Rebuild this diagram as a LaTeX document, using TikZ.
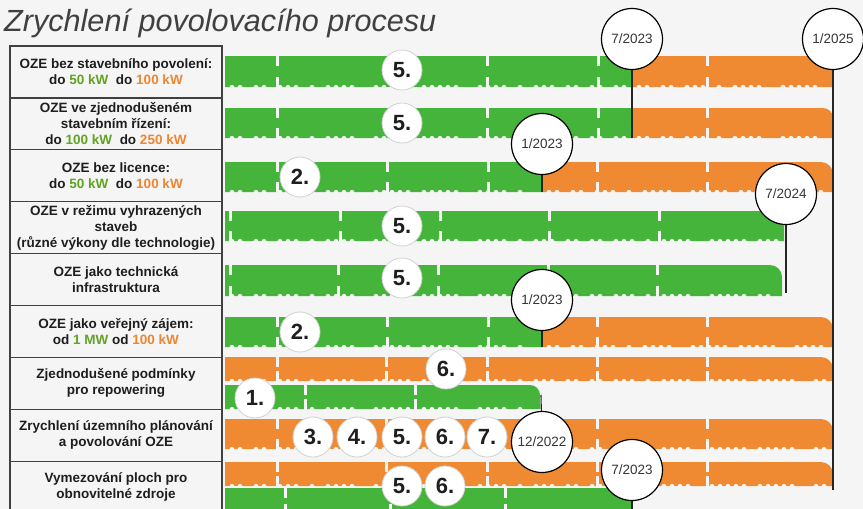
\documentclass[tikz,border=0pt]{standalone}
\usepackage{fontspec}
\setmainfont{Liberation Sans}
\definecolor{bg}{HTML}{F5F5F5}
\definecolor{grn}{HTML}{45B43A}
\definecolor{org}{HTML}{F08A32}
\definecolor{tgrn}{HTML}{62A324}
\definecolor{torg}{HTML}{EE8530}
\definecolor{ink}{HTML}{1E1E1E}
\definecolor{ttl}{HTML}{404040}
\newcommand\tlbar[7]{%
  \fill[#5] (#1,#4) -- (#1,#3) -- ({#2-#6},#3) .. controls ({#2-0.45*#6},#3) and (#2,{#3+0.45*#6}) .. (#2,{#3+#6}) -- (#2,#4) -- cycle;
  \pgfmathtruncatemacro\nbites{(#2-#1-6)/8}%
  \foreach \k in {1,...,\nbites}{%
    \pgfmathtruncatemacro\ma{mod(\k,6)}%
    \pgfmathtruncatemacro\mb{mod(\k,7)}%
    \ifnum\ma=0\relax\else\ifnum\mb=3\relax\else
      \fill[bg] ({#1+8*\k-1},{#4+0.4}) circle (2.5);
    \fi\fi}%
  \foreach \g in {#7}{%
    \fill[bg] ({\g-1.5},{#3-1}) rectangle ({\g+1.5},{#3+10});
    \fill[bg] ({\g-1.5},{#4-10}) rectangle ({\g+1.5},{#4+1});}%
}
\newcommand\gt[1]{\textcolor{tgrn}{#1}}
\newcommand\ot[1]{\textcolor{torg}{#1}}
\begin{document}
\begin{tikzpicture}[x=1pt,y=-1pt,
  cell/.style={draw=ink!85, line width=1.2pt, fill=bg, rectangle, minimum width=212pt, minimum height=51.9pt, inner sep=0pt, align=center, text=ink, font=\bfseries\fontsize{13.5}{16}\selectfont},
  num/.style={circle, fill=white, draw=gray!35, line width=0.8pt, minimum size=40pt, inner sep=0pt, text=ink, font=\bfseries\fontsize{22}{22}\selectfont},
  date/.style={circle, fill=white, draw=black, line width=1.2pt, minimum size=61pt, inner sep=0pt, text=ink!90, font=\fontsize{13.5}{14}\selectfont},
  vline/.style={draw=black!85, line width=1.1pt}]
\useasboundingbox (0,0) rectangle (863,509);
\clip (0,0) rectangle (863,509);
\fill[bg] (0,0) rectangle (863,509);
\node[anchor=base west, text=ttl, font=\itshape\fontsize{30.6}{30}\selectfont, inner sep=0pt] (title) at (4,31) {Zrychlení povolovacího procesu};
% table
\node[cell] (c1) at (116,71.95) {OZE bez stavebního povolení:\\do \gt{50 kW}\ \ do \ot{100 kW}};
\node[cell] (c2) at (116,123.85) {OZE ve zjednodušeném\\stavebním řízení:\\do \gt{100 kW}\ \ do \ot{250 kW}};
\node[cell] (c3) at (116,175.75) {OZE bez licence:\\do \gt{50 kW}\ \ do \ot{100 kW}};
\node[cell] (c4) at (116,227.65) {OZE v režimu vyhrazených\\staveb\\(různé výkony dle technologie)};
\node[cell] (c5) at (116,279.55) {OZE jako technická\\infrastruktura};
\node[cell] (c6) at (116,331.45) {OZE jako veřejný zájem:\\od \gt{1 MW} od \ot{100 kW}};
\node[cell] (c7) at (116,383.35) {Zjednodušené podmínky\\pro repowering};
\node[cell] (c8) at (116,435.25) {Zrychlení územního plánování\\a povolování OZE};
\node[cell] (c9) at (116,487.15) {Vymezování ploch pro\\obnovitelné zdroje};
% bars
\tlbar{225}{632}{56}{87}{grn}{0}{277,487,598}
\tlbar{632}{833}{56}{87}{org}{3}{707}
\tlbar{225}{632}{108}{138}{grn}{0}{277,487,598}
\tlbar{632}{833}{108}{138}{org}{10}{707}
\tlbar{225}{542}{162}{192}{grn}{0}{277,387,488}
\tlbar{542}{833}{162}{192}{org}{12}{597,707}
\tlbar{225}{784}{211}{241}{grn}{6}{230,340,440,549,659}
\tlbar{225}{782}{265}{296}{grn}{12}{230,338,438,548,657}
\tlbar{225}{542}{317}{347}{grn}{0}{277,387,488}
\tlbar{542}{833}{317}{347}{org}{12}{597,707}
\tlbar{225}{833}{357}{381}{org}{12}{277,386,487,597,707}
\tlbar{225}{540}{385}{409}{grn}{10}{305,415}
\tlbar{225}{833}{419}{449}{org}{12}{277,386,487,597,707}
\tlbar{225}{833}{462}{486}{org}{12}{277,386,487,597,707}
\tlbar{225}{632}{488}{514}{grn}{0}{285,390,505}
% timeline marker lines
\coordinate (p1) at (632,39);
\coordinate (p2) at (833,39);
\coordinate (p3) at (542,144);
\coordinate (p4) at (786,194);
\coordinate (p5) at (542,300);
\coordinate (p6) at (542,442);
\coordinate (p7) at (632,470);
\coordinate (e1) at (632,138);
\coordinate (e2) at (833,490);
\coordinate (e3) at (542,192);
\coordinate (e4) at (786,293);
\coordinate (e5) at (542,347);
\coordinate (e6) at (541,395);
\coordinate (e7) at (632,512);
\draw[vline] (p1) -- (e1);
\draw[vline] (p2) -- (e2);
\draw[vline] (p3) -- (e3);
\draw[vline] (p4) -- (e4);
\draw[vline] (p5) -- (e5);
\draw[vline] (p6) -- (e6);
\draw[vline] (p7) -- (e7);
% date circles
\node[date] (d1) at (p1) {7/2023};
\node[date] (d2) at (p2) {1/2025};
\node[date] (d3) at (p3) {1/2023};
\node[date] (d4) at (p4) {7/2024};
\node[date] (d5) at (p5) {1/2023};
\node[date] (d6) at (p6) {12/2022};
\node[date] (d7) at (p7) {7/2023};
% number circles
\node[num] (n1) at (402,70) {5.};
\node[num] (n2) at (402,123) {5.};
\node[num] (n3) at (300,177) {2.};
\node[num] (n4) at (402,226) {5.};
\node[num] (n5) at (402,278) {5.};
\node[num] (n6) at (300,332) {2.};
\node[num] (n7) at (446,369) {6.};
\node[num] (n8) at (255,398) {1.};
\node[num] (n9) at (313,437) {3.};
\node[num] (n10) at (357,437) {4.};
\node[num] (n11) at (402,437) {5.};
\node[num] (n12) at (445,437) {6.};
\node[num] (n13) at (487,437) {7.};
\node[num] (n14) at (402,486) {5.};
\node[num] (n15) at (445,486) {6.};
\end{tikzpicture}
\end{document}
